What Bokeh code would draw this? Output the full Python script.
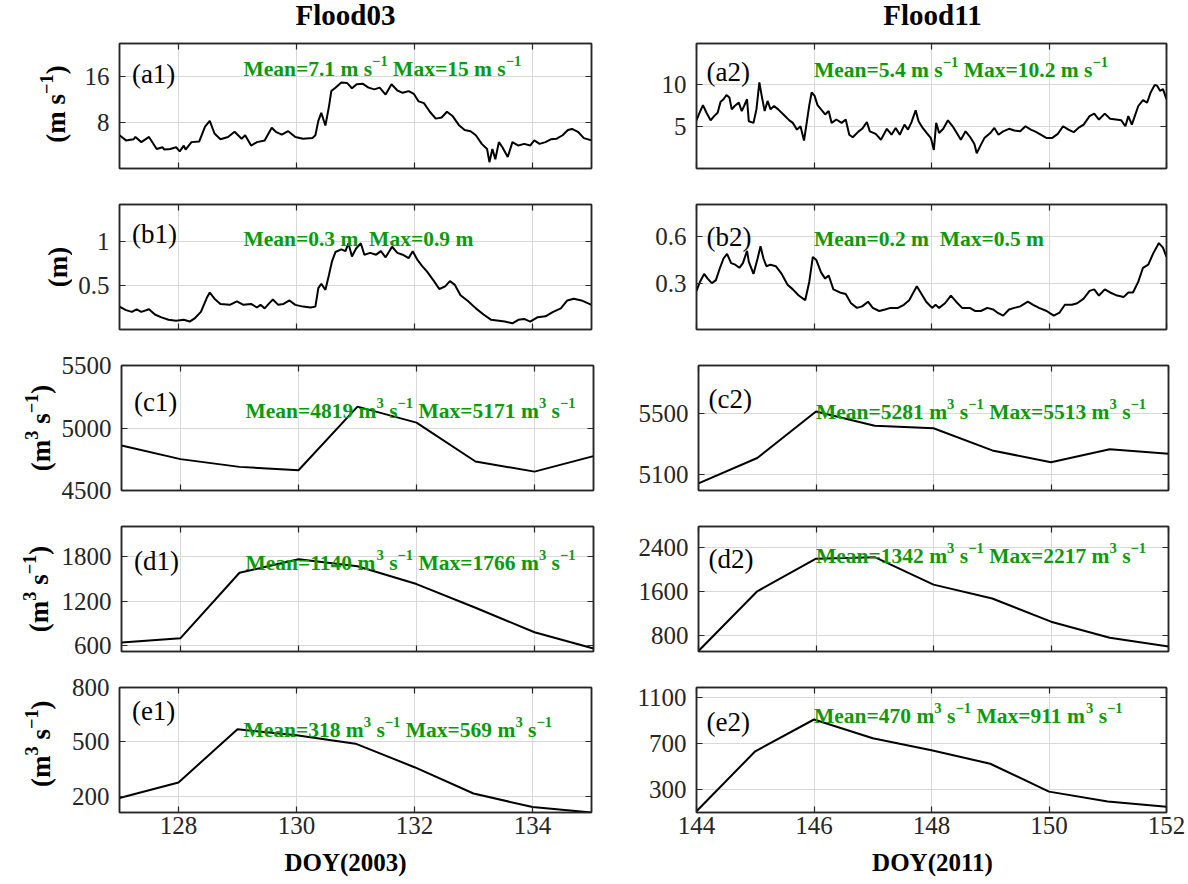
import re
import math
from bokeh.plotting import figure
from bokeh.layouts import column, row
from bokeh.models import FixedTicker, LinearAxis, Range1d, CustomJSTickFormatter, ColumnDataSource
from bokeh.core.properties import value
from bokeh.embed import file_html
from bokeh.resources import INLINE

SERIF = "Liberation Serif"
GREEN = "#0c9a0c"
AXC = "#262626"

# ---------------- data ----------------
titles = ["Flood03", "Flood11"]
xlabels = ["DOY(2003)", "DOY(2011)"]
xticks_left = [128, 130, 132, 134]
xticks_right = [144, 146, 148, 150, 152]

# (a1) wind speed, Flood03
a1_doy = [127.00, 127.11, 127.24, 127.27, 127.37, 127.47, 127.50, 127.63, 127.73, 127.76,
          127.86, 127.96, 128.02, 128.09, 128.12, 128.22, 128.35, 128.45, 128.53, 128.61,
          128.71, 128.84, 128.95, 129.07, 129.13, 129.23, 129.33, 129.46, 129.58, 129.65,
          129.75, 129.86, 129.98, 130.11, 130.27, 130.32, 130.37, 130.42, 130.49, 130.55,
          130.59, 130.66, 130.76, 130.86, 130.94, 131.02, 131.12, 131.22, 131.32, 131.41,
          131.51, 131.61, 131.71, 131.80, 131.90, 131.99, 132.07, 132.16, 132.26, 132.36,
          132.46, 132.55, 132.65, 132.75, 132.85, 132.95, 133.04, 133.14, 133.23, 133.27,
          133.32, 133.37, 133.43, 133.49, 133.58, 133.66, 133.76, 133.86, 133.96, 134.03,
          134.12, 134.22, 134.31, 134.41, 134.51, 134.60, 134.67, 134.77, 134.87, 135.00]
a1_val = [5.8, 4.9, 5.1, 5.5, 4.6, 5.3, 5.5, 3.4, 3.7, 3.3,
          3.4, 3.7, 3.0, 4.0, 3.3, 4.6, 4.7, 7.3, 8.3, 6.1,
          5.1, 5.5, 6.4, 5.2, 5.8, 4.0, 4.6, 4.9, 7.1, 6.4,
          5.9, 6.5, 5.5, 5.2, 5.3, 5.8, 8.3, 9.7, 7.5, 10.8,
          13.5, 14.1, 15.0, 14.9, 14.0, 14.7, 14.8, 14.1, 13.8, 14.1,
          12.9, 14.7, 13.6, 13.2, 13.5, 13.0, 11.7, 11.4, 9.9, 8.7,
          8.9, 9.9, 9.1, 7.6, 6.7, 6.5, 5.8, 4.3, 3.4, 1.1,
          3.4, 1.6, 4.6, 3.7, 2.0, 4.6, 4.0, 4.3, 4.0, 4.9,
          4.3, 4.6, 5.1, 5.2, 5.8, 6.7, 6.9, 6.4, 5.3, 4.9]

# (b1) wave height, Flood03
b1_doy = [127.00, 127.11, 127.21, 127.29, 127.37, 127.50, 127.60, 127.70, 127.83, 127.96,
          128.09, 128.19, 128.28, 128.38, 128.48, 128.53, 128.61, 128.71, 128.87, 128.99,
          129.10, 129.23, 129.33, 129.39, 129.46, 129.54, 129.60, 129.69, 129.78, 129.88,
          129.98, 130.11, 130.24, 130.32, 130.37, 130.42, 130.49, 130.55, 130.60, 130.66,
          130.76, 130.83, 130.88, 130.94, 131.01, 131.09, 131.15, 131.25, 131.35, 131.43,
          131.51, 131.62, 131.71, 131.80, 131.90, 131.97, 132.05, 132.13, 132.21, 132.33,
          132.42, 132.52, 132.60, 132.68, 132.78, 132.91, 133.04, 133.17, 133.30, 133.43,
          133.53, 133.66, 133.76, 133.86, 133.96, 134.09, 134.22, 134.35, 134.48, 134.59,
          134.70, 134.83, 135.00]
b1_val = [0.26, 0.22, 0.20, 0.23, 0.20, 0.23, 0.17, 0.14, 0.11, 0.10,
          0.11, 0.09, 0.13, 0.20, 0.36, 0.42, 0.35, 0.29, 0.28, 0.32,
          0.28, 0.29, 0.25, 0.28, 0.24, 0.30, 0.34, 0.28, 0.29, 0.33,
          0.28, 0.26, 0.25, 0.26, 0.47, 0.52, 0.45, 0.62, 0.77, 0.88,
          0.91, 0.89, 0.98, 0.83, 0.92, 0.98, 0.85, 0.87, 0.85, 0.89,
          0.82, 0.94, 0.87, 0.85, 0.81, 0.89, 0.79, 0.72, 0.66, 0.55,
          0.46, 0.49, 0.55, 0.51, 0.39, 0.32, 0.24, 0.17, 0.11, 0.10,
          0.09, 0.07, 0.11, 0.12, 0.09, 0.14, 0.15, 0.20, 0.24, 0.33,
          0.35, 0.33, 0.28]

# (a2) wind speed, Flood11
a2_doy = [144.00, 144.04, 144.11, 144.17, 144.24, 144.30, 144.36, 144.41, 144.46, 144.51,
          144.56, 144.60, 144.65, 144.72, 144.77, 144.81, 144.86, 144.89, 144.97, 145.02,
          145.07, 145.11, 145.16, 145.21, 145.26, 145.32, 145.39, 145.48, 145.58, 145.64,
          145.71, 145.77, 145.83, 145.88, 145.92, 145.96, 146.01, 146.06, 146.12, 146.19,
          146.25, 146.30, 146.38, 146.47, 146.54, 146.60, 146.66, 146.76, 146.82, 146.90,
          146.95, 147.05, 147.14, 147.24, 147.32, 147.39, 147.46, 147.54, 147.60, 147.66,
          147.73, 147.78, 147.85, 147.92, 147.99, 148.04, 148.08, 148.13, 148.20, 148.28,
          148.36, 148.43, 148.50, 148.58, 148.66, 148.73, 148.77, 148.84, 148.90, 149.00,
          149.07, 149.14, 149.22, 149.32, 149.41, 149.51, 149.60, 149.69, 149.76, 149.86,
          149.96, 150.05, 150.15, 150.24, 150.33, 150.42, 150.50, 150.59, 150.69, 150.77,
          150.85, 150.95, 151.04, 151.14, 151.23, 151.30, 151.35, 151.41, 151.46, 151.52,
          151.60, 151.67, 151.73, 151.80, 151.84, 151.89, 151.94, 152.00]
a2_val = [5.7, 6.4, 7.5, 6.6, 5.7, 6.2, 6.6, 7.9, 8.2, 8.7,
          8.4, 7.0, 7.4, 7.8, 6.8, 7.4, 8.2, 5.6, 5.4, 7.0,
          10.2, 8.6, 6.8, 8.0, 7.0, 7.4, 7.0, 6.4, 5.7, 5.4,
          4.6, 5.0, 3.3, 5.6, 7.5, 9.0, 8.6, 7.5, 7.0, 6.4,
          6.8, 5.4, 5.8, 5.4, 5.8, 4.0, 3.7, 4.4, 4.7, 5.5,
          4.4, 4.1, 3.4, 4.7, 4.0, 4.8, 4.0, 5.2, 4.6, 5.5,
          6.9, 5.6, 4.8, 4.2, 3.6, 2.2, 5.4, 4.2, 4.7, 5.7,
          5.0, 4.2, 3.4, 4.4, 3.7, 2.9, 1.8, 2.8, 3.6, 4.2,
          4.8, 4.0, 4.4, 4.7, 4.5, 4.4, 5.0, 4.6, 4.4, 4.0,
          3.6, 3.6, 4.1, 5.0, 4.6, 4.3, 4.8, 5.2, 6.2, 6.5,
          5.8, 6.5, 5.9, 5.8, 5.7, 5.0, 6.2, 5.2, 6.2, 7.4,
          8.1, 7.8, 9.0, 9.9, 9.8, 9.2, 9.4, 8.2]

# (b2) wave height, Flood11
b2_doy = [144.00, 144.06, 144.13, 144.19, 144.26, 144.33, 144.40, 144.46, 144.52, 144.59,
          144.66, 144.73, 144.79, 144.86, 144.89, 144.97, 145.04, 145.09, 145.14, 145.19,
          145.26, 145.35, 145.45, 145.55, 145.64, 145.74, 145.85, 145.92, 145.98, 146.04,
          146.12, 146.19, 146.25, 146.33, 146.44, 146.54, 146.63, 146.73, 146.82, 146.92,
          147.00, 147.11, 147.21, 147.30, 147.43, 147.53, 147.62, 147.75, 147.83, 147.91,
          148.01, 148.07, 148.13, 148.23, 148.33, 148.42, 148.52, 148.65, 148.74, 148.84,
          148.95, 149.05, 149.12, 149.22, 149.32, 149.41, 149.51, 149.64, 149.73, 149.83,
          149.96, 150.08, 150.18, 150.27, 150.39, 150.48, 150.59, 150.69, 150.77, 150.85,
          150.95, 151.04, 151.16, 151.27, 151.35, 151.43, 151.52, 151.60, 151.69, 151.77,
          151.87, 151.94, 152.00]
b2_val = [0.25, 0.31, 0.36, 0.33, 0.30, 0.32, 0.40, 0.46, 0.49, 0.43,
          0.42, 0.40, 0.43, 0.51, 0.44, 0.36, 0.46, 0.54, 0.46, 0.41,
          0.42, 0.41, 0.36, 0.29, 0.26, 0.22, 0.19, 0.31, 0.47, 0.45,
          0.37, 0.33, 0.35, 0.26, 0.24, 0.23, 0.17, 0.14, 0.15, 0.18,
          0.14, 0.12, 0.13, 0.14, 0.14, 0.16, 0.19, 0.28, 0.23, 0.18,
          0.14, 0.16, 0.14, 0.17, 0.22, 0.18, 0.14, 0.14, 0.12, 0.12,
          0.14, 0.13, 0.11, 0.09, 0.13, 0.14, 0.15, 0.18, 0.16, 0.14,
          0.12, 0.09, 0.11, 0.16, 0.16, 0.17, 0.20, 0.25, 0.26, 0.22,
          0.26, 0.24, 0.22, 0.21, 0.24, 0.24, 0.31, 0.40, 0.42, 0.49,
          0.56, 0.53, 0.47]

# daily discharge series
day_left = [127, 128, 129, 130, 131, 132, 133, 134, 135]
day_right = [144, 145, 146, 147, 148, 149, 150, 151, 152]
c1_val = [4860, 4751, 4689, 4662, 5171, 5043, 4732, 4651, 4775]
c2_val = [5042, 5208, 5513, 5420, 5403, 5258, 5180, 5266, 5236]
d1_val = [640, 700, 1583, 1766, 1670, 1430, 1110, 780, 560]
d2_val = [520, 1600, 2190, 2217, 1720, 1470, 1050, 760, 600]
e1_val = [190, 276, 569, 536, 490, 360, 215, 140, 110]
e2_val = [111, 634, 911, 748, 643, 525, 282, 195, 150]

# y ticks per panel
yt = {
    "a1": [8, 16], "a2": [5, 10],
    "b1": [0.5, 1], "b2": [0.3, 0.6],
    "c1": [4500, 5000, 5500], "c2": [5100, 5500],
    "d1": [600, 1200, 1800], "d2": [800, 1600, 2400],
    "e1": [200, 500, 800], "e2": [300, 700, 1100],
}
yr = {
    "a1": (0, 21.8), "a2": (0, 14.8),
    "b1": (0, 1.42), "b2": (0, 0.81),
    "c1": (4500, 5500), "c2": (4995, 5815),
    "d1": (520, 2207), "d2": (511, 2771),
    "e1": (110, 800), "e2": (100, 1190),
}
# markup: ^{...} marks a superscript
notes = {
    "a1": "Mean=7.1 m s^{\u22121} Max=15 m s^{\u22121}",
    "a2": "Mean=5.4 m s^{\u22121} Max=10.2 m s^{\u22121}",
    "b1": "Mean=0.3 m  Max=0.9 m",
    "b2": "Mean=0.2 m  Max=0.5 m",
    "c1": "Mean=4819 m^{3} s^{\u22121} Max=5171 m^{3} s^{\u22121}",
    "c2": "Mean=5281 m^{3} s^{\u22121} Max=5513 m^{3} s^{\u22121}",
    "d1": "Mean=1140 m^{3} s^{\u22121} Max=1766 m^{3} s^{\u22121}",
    "d2": "Mean=1342 m^{3} s^{\u22121} Max=2217 m^{3} s^{\u22121}",
    "e1": "Mean=318 m^{3} s^{\u22121} Max=569 m^{3} s^{\u22121}",
    "e2": "Mean=470 m^{3} s^{\u22121} Max=911 m^{3} s^{\u22121}",
}
ylabels = ["(m s^{\u22121})", "(m)", "(m^{3} s^{\u22121})", "(m^{3} s^{\u22121})", "(m^{3} s^{\u22121})"]

# placement of texts (y in data units = vertical centre of the text)
note_y = {"a1": 18.5, "a2": 12.5, "b1": 1.11, "b2": 0.63, "c1": 5194, "c2": 5556,
          "d1": 1805, "d2": 2370, "e1": 605, "e2": 1000}
lab_y = {"a1": 16.5, "a2": 11.4, "b1": 1.08, "b2": 0.60, "c1": 5207, "c2": 5593,
         "d1": 1741, "d2": 2188, "e1": 669, "e2": 890}

series = {
    "a1": (a1_doy, a1_val), "b1": (b1_doy, b1_val), "c1": (day_left, c1_val),
    "d1": (day_left, d1_val), "e1": (day_left, e1_val),
    "a2": (a2_doy, a2_val), "b2": (b2_doy, b2_val), "c2": (day_right, c2_val),
    "d2": (day_right, d2_val), "e2": (day_right, e2_val),
}

# ---------------- layout constants (pixels) ----------------
W_PAGE = 1188
FRAME_H = 125
TOP_STRIP = 30
BOT_STRIP = 36
rows_top = [13, 18, 18, 18, 18]
rows_bot = [18, 18, 18, 18, 36]
strip_w = [72, 72, 58, 58, 58]          # width of the y-label strip of each row
ylab_xc = [55, 57, 40, 38, 40]          # centre of each y label
col_centres = [345, 932]                # centres of titles / x labels

# ---------------- text layout helpers (Times-bold advance widths, per mille) ----------------
WB = {"M": 944, "e": 444, "a": 500, "n": 556, "=": 570, ".": 250, " ": 250,
      "m": 833, "s": 389, "x": 500, "\u2212": 570, "(": 333, ")": 333}
NOTE_SIZE = 21.5
YLAB_SIZE = 27
SUP = 0.68


def tw(s, size):
    return sum(WB.get(ch, 500) for ch in s) * size / 1000.0


def pieces(markup, size):
    out = []
    x = 0.0
    for part in re.split(r"(\^\{[^}]*\})", markup):
        if not part:
            continue
        if part.startswith("^{"):
            s = part[2:-1]
            out.append((s, x, True))
            x += tw(s, size * SUP)
        else:
            for tok in re.findall(r"\s+|\S+(?: \S+)*", part):
                if not tok.strip():
                    x += tw(tok, size)
                else:
                    out.append((tok, x, False))
                    x += tw(tok, size)
    return out, x


def px(v):
    return "%.1fpx" % v


FMT = CustomJSTickFormatter(code="return tick.toString()")
BLANK = CustomJSTickFormatter(code="return ''")


def blank_fig(w, h):
    f = figure(width=w, height=h, x_range=Range1d(0, w), y_range=Range1d(0, h),
               min_border=0, x_axis_location=None, y_axis_location=None, title=None,
               output_backend="svg", toolbar_location=None, tools="",
               background_fill_color="white", border_fill_color="white")
    f.outline_line_color = None
    f.xgrid.visible = False
    f.ygrid.visible = False
    return f


def style_axis(ax):
    ax.major_tick_in = 6
    ax.major_tick_out = 0
    ax.minor_tick_line_color = None
    ax.axis_line_color = AXC
    ax.axis_line_width = 1.5
    ax.major_tick_line_color = AXC
    ax.major_tick_line_width = 1.2


def panel(key, col, r):
    left = col == 0
    xs, ys = series[key]
    xr = (127, 135) if left else (144, 152)
    xt = xticks_left if left else xticks_right
    p = figure(
        x_range=Range1d(*xr), y_range=Range1d(*yr[key]),
        frame_width=472 if left else 470, frame_height=FRAME_H,
        min_border_left=(119 - strip_w[r]) if left else 95, min_border_right=10 if left else 22,
        min_border_top=rows_top[r], min_border_bottom=rows_bot[r],
        output_backend="svg", toolbar_location=None, tools="",
        background_fill_color="white", border_fill_color="white",
    )
    p.outline_line_color = AXC
    p.outline_line_width = 1.5

    for g in (p.xgrid, p.ygrid):
        g.grid_line_color = "#d9d9d9"
        g.grid_line_width = 1
    p.xgrid.ticker = FixedTicker(ticks=xt)
    p.ygrid.ticker = FixedTicker(ticks=yt[key])

    p.line(xs, ys, line_color="black", line_width=2)

    for ax in p.xaxis + p.yaxis:
        style_axis(ax)
        ax.major_label_text_font = SERIF
        ax.major_label_text_font_size = "25px"
        ax.major_label_text_color = AXC
        ax.formatter = FMT
    p.xaxis.ticker = FixedTicker(ticks=xt)
    p.yaxis.ticker = FixedTicker(ticks=yt[key])
    p.xaxis.major_label_standoff = 4
    p.yaxis.major_label_standoff = 10
    if r < 4:
        p.xaxis.formatter = BLANK

    top = LinearAxis(ticker=FixedTicker(ticks=xt), formatter=BLANK, major_label_standoff=0)
    right = LinearAxis(ticker=FixedTicker(ticks=yt[key]), formatter=BLANK, major_label_standoff=0)
    style_axis(top)
    style_axis(right)
    p.add_layout(top, "above")
    p.add_layout(right, "right")

    # panel tag
    p.text(x=[127.21 if left else 144.17], y=[lab_y[key]], text=["(" + key + ")"],
           text_font=value(SERIF), text_font_size="27px", text_color="black",
           text_baseline="middle", text_align="left")

    # green statistics note, with real superscripts
    pcs, _ = pieces(notes[key], NOTE_SIZE)
    x0 = 129.1 if left else 146.0
    src = ColumnDataSource(dict(
        x=[x0] * len(pcs),
        y=[note_y[key]] * len(pcs),
        text=[t for t, _, _ in pcs],
        xo=[o for _, o, _ in pcs],
        yo=[(-1 if s else 7) for _, _, s in pcs],
        fs=[px(NOTE_SIZE * SUP) if s else px(NOTE_SIZE) for _, _, s in pcs],
    ))
    p.text(x="x", y="y", text="text", x_offset="xo", y_offset="yo", text_font_size="fs",
           source=src, text_font=value(SERIF), text_font_style="bold",
           text_color=GREEN, text_baseline="alphabetic", text_align="left")
    return p


def ylabel_strip(r):
    h = rows_top[r] + FRAME_H + rows_bot[r]
    f = blank_fig(strip_w[r], h)
    pcs, total = pieces(ylabels[r], YLAB_SIZE)
    yc = rows_bot[r] + FRAME_H / 2.0
    src = ColumnDataSource(dict(
        x=[ylab_xc[r]] * len(pcs),
        y=[yc] * len(pcs),
        xo=[(-9 if s else 0) for _, _, s in pcs],
        yo=[total / 2.0 - o for _, o, _ in pcs],
        text=[t for t, _, _ in pcs],
        fs=[px(YLAB_SIZE * SUP) if s else px(YLAB_SIZE) for _, _, s in pcs],
    ))
    f.text(x="x", y="y", x_offset="xo", y_offset="yo", text="text", text_font_size="fs",
           source=src, angle=math.pi / 2,
           text_font=value(SERIF), text_font_style="bold", text_color="black",
           text_align="left", text_baseline="middle")
    return f


def text_strip(h, labels, size, yc):
    f = blank_fig(W_PAGE, h)
    f.text(x=col_centres, y=[yc] * len(labels), text=labels,
           text_font=value(SERIF), text_font_size=size, text_font_style="bold",
           text_color="black", text_align="center", text_baseline="middle")
    return f


keys = ["a", "b", "c", "d", "e"]
items = [text_strip(TOP_STRIP, titles, "29px", TOP_STRIP - 14)]
for r, k in enumerate(keys):
    items.append(row(ylabel_strip(r), panel(k + "1", 0, r), panel(k + "2", 1, r), spacing=0))
items.append(text_strip(BOT_STRIP, xlabels, "25px", BOT_STRIP - 14))
layout = column(*items, spacing=0)

open("out.html", "w").write(file_html(layout, INLINE, title="Flood panels"))
